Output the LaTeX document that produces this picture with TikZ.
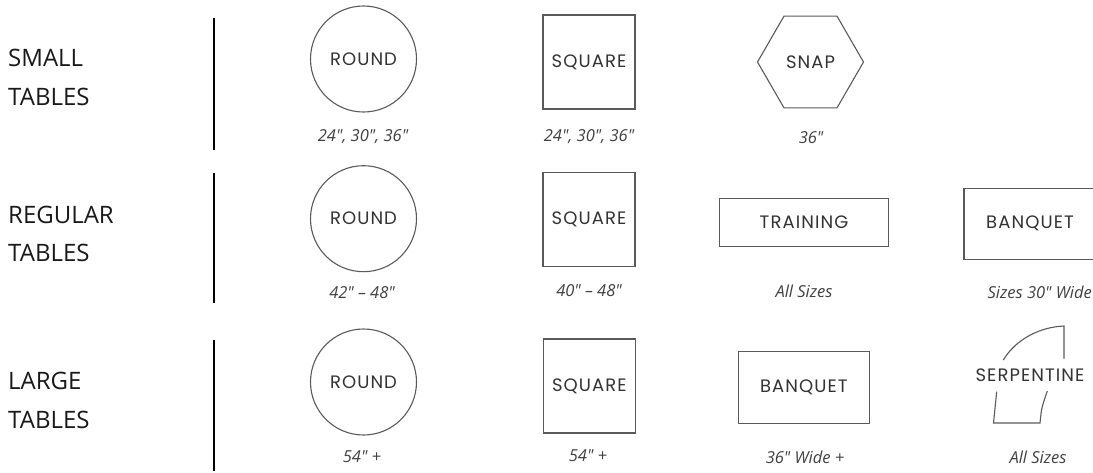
\documentclass[tikz,border=0pt]{standalone}
\usepackage{fontspec}
\setmainfont{Open Sans}
\newfontfamily\shpfont[LetterSpace=6]{Poppins}
\newfontfamily\capfont[Ligatures=TeXOff]{Open Sans}
\usetikzlibrary{shapes.geometric}
\definecolor{shpline}{HTML}{5A5A5A}
\definecolor{shptext}{HTML}{333333}
\definecolor{captext}{HTML}{404040}
\tikzset{
  x=1pt, y=-1pt,
  rowlabel/.style={anchor=west, inner sep=0pt, font=\fontsize{24}{24}\selectfont, text=black!90, text height=17pt, text depth=0pt},
  divider/.style={line width=2.6pt, black},
  tshape/.style={draw=shpline, line width=1.1pt, inner sep=0pt, font=\shpfont\fontsize{18}{18}\selectfont, text=shptext},
  roundtable/.style={tshape, circle, minimum size=106pt},
  squaretable/.style={tshape, rectangle, minimum width=92pt, minimum height=94pt},
  caption/.style={inner sep=0pt, font=\capfont\itshape\fontsize{16.5}{16.5}\selectfont, text=captext, text height=11.8pt, text depth=0pt},
  serp/.style={draw=shpline, line width=1.1pt}
}
\begin{document}
\begin{tikzpicture}
\useasboundingbox (0,0) rectangle (1093,472);
\clip (0,0) rectangle (1093,472);
% row labels
\node[rowlabel] (small1) at (8,58) {SMALL};
\node[rowlabel] (small2) at (8,97) {TABLES};
\node[rowlabel] (reg1) at (8,215) {REGULAR};
\node[rowlabel] (reg2) at (8,253) {TABLES};
\node[rowlabel] (large1) at (8,381) {LARGE};
\node[rowlabel] (large2) at (8,420) {TABLES};
% dividers
\coordinate (d1a) at (214,18); \coordinate (d1b) at (214,150);
\coordinate (d2a) at (214,173); \coordinate (d2b) at (214,303);
\coordinate (d3a) at (214,340); \coordinate (d3b) at (214,471);
\draw[divider] (d1a) -- (d1b);
\draw[divider] (d2a) -- (d2b);
\draw[divider] (d3a) -- (d3b);
% small tables
\node[roundtable] (sround) at (363.5,59) {ROUND};
\node[squaretable] (ssquare) at (589,62) {SQUARE};
\node[tshape, regular polygon, regular polygon sides=6, minimum size=106pt] (ssnap) at (810.5,62) {SNAP};
\node[caption] (csround) at (363,136) {24", 30", 36"};
\node[caption] (cssquare) at (589,136) {24", 30", 36"};
\node[caption] (cssnap) at (811,138) {36"};
% regular tables
\node[roundtable] (rround) at (363.5,218.7) {ROUND};
\node[squaretable] (rsquare) at (589,219.5) {SQUARE};
\node[tshape, rectangle, minimum width=169pt, minimum height=48pt] (rtrain) at (804,222.5) {TRAINING};
\node[tshape, rectangle, minimum width=132pt, minimum height=71pt] (rbanq) at (1030,223.8) {BANQUET};
\node[caption] (crround) at (362,293) {42" – 48"};
\node[caption] (crsquare) at (589,291) {40" – 48"};
\node[caption] (crtrain) at (804,292) {All Sizes};
\node[caption, anchor=east] (crbanq) at (1092,293) {Sizes 30" Wide};
% large tables
\node[roundtable] (lround) at (363.5,382) {ROUND};
\node[squaretable] (lsquare) at (589.3,386) {SQUARE};
\node[tshape, rectangle, minimum width=131pt, minimum height=72pt] (lbanq) at (803.8,387.8) {BANQUET};
\node[inner sep=0pt, font=\shpfont\fontsize{18}{18}\selectfont, text=shptext] (lserp) at (1030,375) {SERPENTINE};
\coordinate (s1) at (1003.3,360);
\coordinate (s2) at (1064,326);
\coordinate (s3) at (1064,358.5);
\coordinate (s4) at (996.7,391.7);
\coordinate (s5) at (993.5,423);
\coordinate (s6) at (1040,423);
\coordinate (s7) at (1047.3,391);
\draw[serp] (s1) .. controls (1016,339) and (1040,327) .. (s2) -- (s3);
\draw[serp] (s4) -- (s5) -- (s6) .. controls (1041.5,408) .. (s7);
\node[caption] (clround) at (362,456.5) {54" +};
\node[caption] (clsquare) at (588,456) {54" +};
\node[caption] (clbanq) at (805,458) {36" Wide +};
\node[caption] (clserp) at (1038,458) {All Sizes};
\end{tikzpicture}
\end{document}
